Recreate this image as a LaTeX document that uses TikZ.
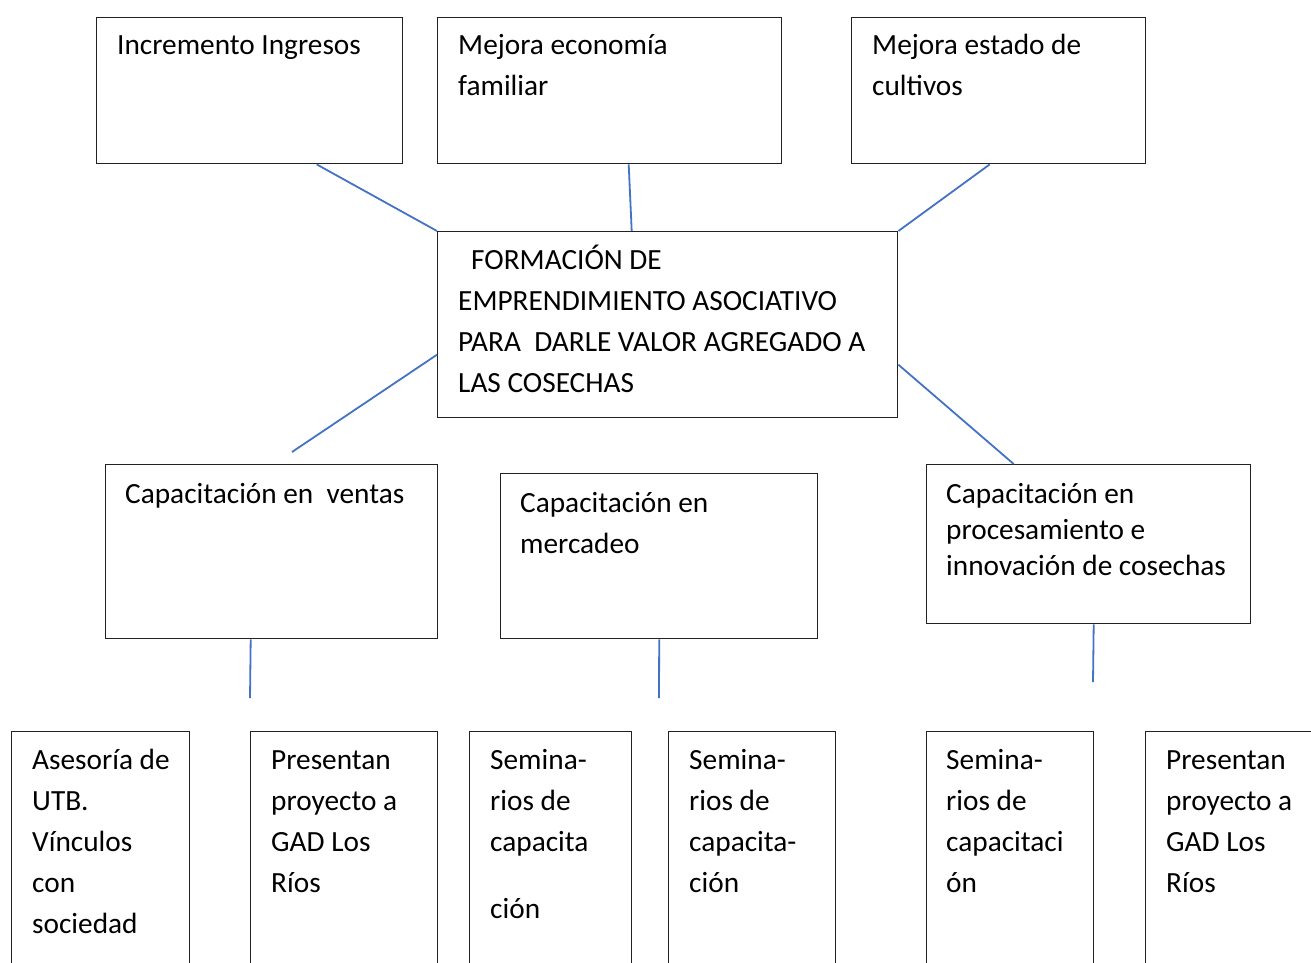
\documentclass[tikz,border=0pt]{standalone}
\usepackage{fontspec}
\setmainfont{Carlito}
\usetikzlibrary{calc}
\definecolor{linkblue}{HTML}{4472C4}
\definecolor{boxline}{HTML}{222222}
\tikzset{
  box/.style={draw=boxline, line width=1.4pt, rectangle, inner sep=0pt, anchor=north west},
  conn/.style={draw=linkblue, line width=1.8pt},
  txt/.style={anchor=base west, inner sep=0pt, font=\fontsize{29.3}{41}\selectfont},
}
\newcommand{\boxtext}[2]{\parbox[t]{#1pt}{\raggedright\fontsize{29.3}{41}\selectfont #2}}
\newcommand{\boxtextB}[2]{\parbox[t]{#1pt}{\raggedright\fontsize{29.3}{36}\selectfont #2}}
\begin{document}
\begin{tikzpicture}[x=1pt,y=-1pt]
\clip (0,0) rectangle (1311,962);
\fill[white] (0,0) rectangle (1311,962);
% top row
\node[box, minimum width=306pt, minimum height=146pt] (A) at (96,17) {};
\node[box, minimum width=344pt, minimum height=146pt] (B) at (437,17) {};
\node[box, minimum width=294pt, minimum height=146pt] (C) at (851,17) {};
% center
\node[box, minimum width=460pt, minimum height=186pt] (M) at (437,231) {};
% middle row
\node[box, minimum width=332pt, minimum height=174pt] (D) at (105,464) {};
\node[box, minimum width=317pt, minimum height=165pt] (E) at (500,473) {};
\node[box, minimum width=324pt, minimum height=159pt] (F) at (926,464) {};
% bottom row
\node[box, minimum width=178pt, minimum height=300pt] (G) at (11,731) {};
\node[box, minimum width=187pt, minimum height=300pt] (H) at (250,731) {};
\node[box, minimum width=162pt, minimum height=300pt] (I) at (469,731) {};
\node[box, minimum width=167pt, minimum height=300pt] (J) at (668,731) {};
\node[box, minimum width=167pt, minimum height=300pt] (K) at (926,731) {};
\node[box, minimum width=220pt, minimum height=300pt] (L) at (1145,731) {};

% texts
\node[txt] (tA) at (117,54) {Incremento Ingresos};
\node[txt] (tB) at (458,54) {\boxtext{310}{Mejora economía\\familiar}};
\node[txt] (tC) at (872,54) {\boxtext{270}{Mejora estado de\\cultivos}};
\node[txt] (tM) at (458,269) {\boxtext{440}{\hspace*{13pt}FORMACIÓN DE\\EMPRENDIMIENTO ASOCIATIVO\\PARA\ \ DARLE VALOR AGREGADO A\\LAS COSECHAS}};
\node[txt] (tD) at (125,503) {Capacitación en\ \ ventas};
\node[txt] (tE) at (520,512) {\boxtext{290}{Capacitación en\\mercadeo}};
\node[txt] (tF) at (946,503) {\boxtextB{310}{Capacitación en\\procesamiento e\\innovación de cosechas}};
\node[txt] (tG) at (32,769) {\boxtext{155}{Asesoría de\\UTB.\\Vínculos\\con\\sociedad}};
\node[txt] (tH) at (271,769) {\boxtext{160}{Presentan\\proyecto a\\GAD Los\\Ríos}};
\node[txt] (tI) at (490,769) {\boxtext{140}{Semina-\\rios de\\capacita\\[26pt]ción}};
\node[txt] (tJ) at (689,769) {\boxtext{145}{Semina-\\rios de\\capacita-\\ción}};
\node[txt] (tK) at (946,769) {\boxtext{145}{Semina-\\rios de\\capacitaci\\ón}};
\node[txt] (tL) at (1166,769) {\boxtext{160}{Presentan\\proyecto a\\GAD Los\\Ríos}};

% free ends
\coordinate (eM) at (292,452);
\coordinate (eD) at (250,698);
\coordinate (eE) at (659,698);
\coordinate (eF) at (1093,682);

% connectors
\draw[conn] ([xshift=67pt]A.south) -- (M.north west);
\draw[conn] ([xshift=19pt]B.south) -- ([xshift=-36pt]M.north);
\draw[conn] ([xshift=-9pt]C.south) -- (M.north east);
\draw[conn] ([yshift=-30pt]M.west) -- (eM);
\draw[conn] ([yshift=-40pt]M.east) -- ([xshift=-75pt]F.north);
\draw[conn] ([xshift=-21pt]D.south) -- (eD);
\draw[conn] (E.south) -- (eE);
\draw[conn] ([xshift=5pt]F.south) -- (eF);
\end{tikzpicture}
\end{document}
